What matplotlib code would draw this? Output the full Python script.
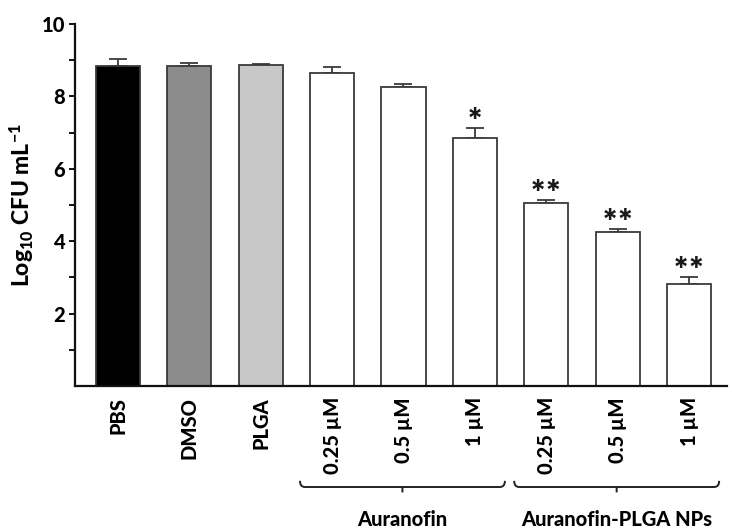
import matplotlib
matplotlib.use("Agg")
import matplotlib.pyplot as plt
from matplotlib.path import Path
from matplotlib.patches import PathPatch
from matplotlib.textpath import TextPath
from matplotlib.font_manager import FontProperties
import numpy as np

plt.rcParams['font.family'] = ['Lato', 'DejaVu Sans']
plt.rcParams['font.weight'] = 'black'
plt.rcParams['mathtext.fontset'] = 'custom'
plt.rcParams['mathtext.rm'] = 'Lato:weight=black'
plt.rcParams['mathtext.bf'] = 'Lato:weight=black'
plt.rcParams['mathtext.it'] = 'Lato:weight=black'

categories = ["PBS", "DMSO", "PLGA", "0.25 \u00b5M", "0.5 \u00b5M", "1 \u00b5M",
              "0.25 \u00b5M", "0.5 \u00b5M", "1 \u00b5M"]
values = [8.85, 8.85, 8.86, 8.66, 8.26, 6.85, 5.05, 4.25, 2.82]
errors = [0.17, 0.07, 0.03, 0.15, 0.09, 0.29, 0.10, 0.09, 0.19]
significance = ["", "", "", "", "", "*", "**", "**", "**"]
fill_colors = ["#000000", "#8c8c8c", "#c8c8c8", "#ffffff", "#ffffff", "#ffffff",
               "#ffffff", "#ffffff", "#ffffff"]
groups = [("Auranofin", 3, 5), ("Auranofin-PLGA NPs", 6, 8)]
yticks_major = [2, 4, 6, 8, 10]
yticks_minor = [1, 3, 5, 7, 9]

FS = 14.5
fig = plt.figure(figsize=(7.32, 5.32), dpi=100)
ax = fig.add_axes([75/732, 1-386/532, (727-75)/732, (386-24)/532])

x = np.arange(len(categories))
edge = "#3a3a3a"
ax.bar(x, values, width=0.62, color=fill_colors, edgecolor=edge, linewidth=1.3, zorder=2)
ax.errorbar(x, values, yerr=[np.zeros(len(errors)), errors], fmt='none',
            ecolor=edge, elinewidth=1.3, capsize=6.5, capthick=1.3, zorder=1)

# significance stars: ink centre ~15 px above the error cap
star_fp = FontProperties(family='Inter', weight='bold', size=21)
for xi, v, e, s in zip(x, values, errors, significance):
    if s:
        ext = TextPath((0, 0), s, prop=star_fp).get_extents()
        ink_mid = (ext.y0 + ext.y1) / 2
        ax.annotate(s, xy=(xi, v + e), xytext=(0, 15 * 0.72 - ink_mid),
                    textcoords='offset points', ha='center', va='baseline',
                    fontproperties=star_fp, color='#1a1a1a')

ax.set_xlim(-0.6, 8.53)
ax.set_ylim(0, 10)
ax.set_yticks(yticks_major)
ax.set_yticks(yticks_minor, minor=True)
ax.set_yticklabels([str(t) for t in yticks_major], fontsize=FS, fontweight='black')
ax.tick_params(axis='y', which='both', direction='out', length=4, width=1.3, pad=3)
ax.set_xticks(x)
ax.set_xticklabels(categories, rotation=90, fontsize=FS, fontweight='black')
ax.tick_params(axis='x', length=0, pad=8)
for side in ['top', 'right']:
    ax.spines[side].set_visible(False)
for side in ['left', 'bottom']:
    ax.spines[side].set_linewidth(1.6)
    ax.spines[side].set_color('#111111')

ax.set_ylabel(r"Log$_{\mathbf{10}}$ CFU mL$^{\mathbf{-1}}$", fontsize=16.5,
              fontweight='black', labelpad=4)

# group brackets
yb = -2.79
for name, i0, i1 in groups:
    x0 = i0 - 0.45
    x1 = i1 + 0.42
    xc = (x0 + x1) / 2
    up = 0.17
    dx = 0.07
    verts = [(x0, yb + up), (x0, yb), (x0 + dx, yb), (xc, yb),
             (xc, yb - 0.15), (xc, yb), (x1 - dx, yb), (x1, yb), (x1, yb + up)]
    codes = [Path.MOVETO, Path.CURVE3, Path.CURVE3, Path.LINETO,
             Path.LINETO, Path.MOVETO, Path.LINETO, Path.CURVE3, Path.CURVE3]
    ax.add_patch(PathPatch(Path(verts, codes), fill=False, edgecolor='#222222',
                           linewidth=1.4, clip_on=False))
    ax.text(xc, -3.87, name, ha='center', va='baseline', fontsize=FS,
            fontweight='black', clip_on=False)

fig.savefig("out.png", dpi=100)
